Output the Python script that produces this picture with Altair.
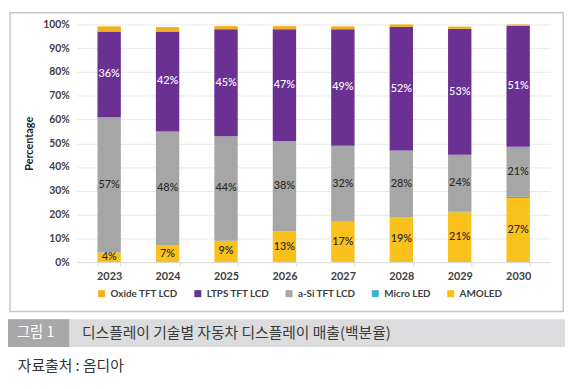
import altair as alt
import pandas as pd

years = ['2023', '2024', '2025', '2026', '2027', '2028', '2029', '2030']
series = ['Oxide TFT LCD', 'LTPS TFT LCD', 'a-Si TFT LCD', 'Micro LED', 'AMOLED']
amoled = [4, 7, 9, 13, 17, 19, 21, 27]
micro_led = [0, 0, 0, 0, 0, 0, 0.2, 0.5]
a_si = [57, 48, 44, 38, 32, 28, 24, 21]
ltps = [36, 42, 45, 47, 49, 52, 53, 51]
oxide = [2.2, 1.9, 1.3, 1.3, 1.2, 1.0, 0.9, 0.8]
colors = ['#F0AF1E', '#6A3192', '#A6A6A6', '#3CB3C8', '#FAC01B']
labelled = ['AMOLED', 'a-Si TFT LCD', 'LTPS TFT LCD']
y_ticks = [0, 10, 20, 30, 40, 50, 60, 70, 80, 90, 100]

caption_tag = '그림 1'
caption = '디스플레이 기술별 자동차 디스플레이 매출(백분율)'
source_note = '자료출처 : 옴디아'

stack_rank = {'AMOLED': 0, 'Micro LED': 1, 'a-Si TFT LCD': 2, 'LTPS TFT LCD': 3, 'Oxide TFT LCD': 4}
values_by_series = {
    'AMOLED': amoled,
    'Micro LED': micro_led,
    'a-Si TFT LCD': a_si,
    'LTPS TFT LCD': ltps,
    'Oxide TFT LCD': oxide,
}
rows = []
for name, vals in values_by_series.items():
    for yr, v in zip(years, vals):
        rows.append({'year': yr, 'series': name, 'value': v, 'rank': stack_rank[name]})
df = pd.DataFrame(rows)

FONT = 'Lato'
KFONT = 'Noto Sans CJK KR'
W, H = 480, 241

y_axis = alt.Axis(values=y_ticks, labelExpr="datum.value + '%'", title='Percentage',
                  titleFont=FONT, titleFontSize=11, titleFontWeight='bold',
                  titleColor='#262626', titlePadding=8,
                  labelFont=FONT, labelFontSize=10.5, labelFontWeight='bold',
                  labelColor='#404040', labelPadding=8, domain=False, ticks=False,
                  gridColor='#E8E8E8')
x_axis = alt.Axis(labelAngle=0, labelFont=FONT, labelFontSize=11, labelFontWeight='bold',
                  labelColor='#404040', labelPadding=5, tickBand='extent', tickSize=4,
                  tickColor='#D9D9D9', domainColor='#D9D9D9', grid=False)
x_scale = alt.Scale(paddingInner=0.6, paddingOuter=0.35)
y_scale = alt.Scale(domain=[0, 100], clamp=True, nice=False)

bars = alt.Chart(df).mark_bar().encode(
    x=alt.X('year:N', title=None, sort=years, scale=x_scale, axis=x_axis),
    y=alt.Y('value:Q', stack='zero', scale=y_scale, axis=y_axis),
    color=alt.Color('series:N', scale=alt.Scale(domain=series, range=colors),
                    legend=alt.Legend(orient='none', legendX=20, legendY=268, direction='horizontal',
                                      title=None, symbolType='square', symbolSize=50,
                                      symbolStrokeWidth=0, labelFont=FONT, labelFontSize=10,
                                      labelFontWeight='bold', labelColor='#404040',
                                      columnPadding=14.5, labelOffset=4)),
    order=alt.Order('rank:Q', sort='ascending'),
)

labels = alt.Chart(df).transform_stack(
    stack='value', as_=['y0', 'y1'], groupby=['year'], sort=[alt.SortField('rank', 'ascending')]
).transform_calculate(
    mid='(datum.y0 + datum.y1) / 2', txt="format(datum.value, '.0f') + '%'"
).transform_filter(
    alt.FieldOneOfPredicate(field='series', oneOf=labelled)
).mark_text(font=FONT, fontSize=11, fontWeight=500).encode(
    x=alt.X('year:N', title=None, sort=years, scale=x_scale, axis=x_axis),
    y=alt.Y('mid:Q', scale=y_scale, axis=y_axis),
    text='txt:N',
    color=alt.condition(alt.datum.series == 'LTPS TFT LCD', alt.value('#FFFFFF'), alt.value('#262626')),
)

one = pd.DataFrame({'t': [caption_tag], 'c': [caption], 's': [source_note]})
frame_df = pd.DataFrame({'k': ['frame']})

edge = '#C8C8C8'
frame = alt.Chart(frame_df).mark_rect(fill=edge, fillOpacity=0, stroke=edge, strokeWidth=1.5).encode(
    x=alt.value(-68), x2=alt.value(493), y=alt.value(-12), y2=alt.value(291))

band = alt.Chart(one).mark_rect(fill='#DCDCDE').encode(
    x=alt.value(-70), x2=alt.value(495), y=alt.value(299), y2=alt.value(327))
tag_box = alt.Chart(one).mark_rect(fill='#A8A8A8').encode(
    x=alt.value(-70), x2=alt.value(-8), y=alt.value(299), y2=alt.value(327))
tag_text = alt.Chart(one).mark_text(font=KFONT, fontSize=14.5, color='#FFFFFF', align='center',
                                    baseline='middle').encode(
    x=alt.value(-42), y=alt.value(313), text='t:N')
cap_text = alt.Chart(one).mark_text(font=KFONT, fontSize=15, color='#3A3A3A', align='left',
                                    baseline='middle').encode(
    x=alt.value(5), y=alt.value(313), text='c:N')
src_text = alt.Chart(one).mark_text(font=KFONT, fontSize=15, color='#333333', align='left',
                                    baseline='middle').encode(
    x=alt.value(-60), y=alt.value(346), text='s:N')

chart = alt.layer(frame, bars, labels, band, tag_box, tag_text, cap_text, src_text).properties(
    width=W, height=H,
    autosize=alt.AutoSizeParams(type='none'),
    padding={'left': 70, 'top': 14, 'right': 22, 'bottom': 126},
    background='#FFFFFF',
).configure_view(strokeWidth=0)

chart.save('out.html', embed_options={'renderer': 'svg', 'actions': False})
